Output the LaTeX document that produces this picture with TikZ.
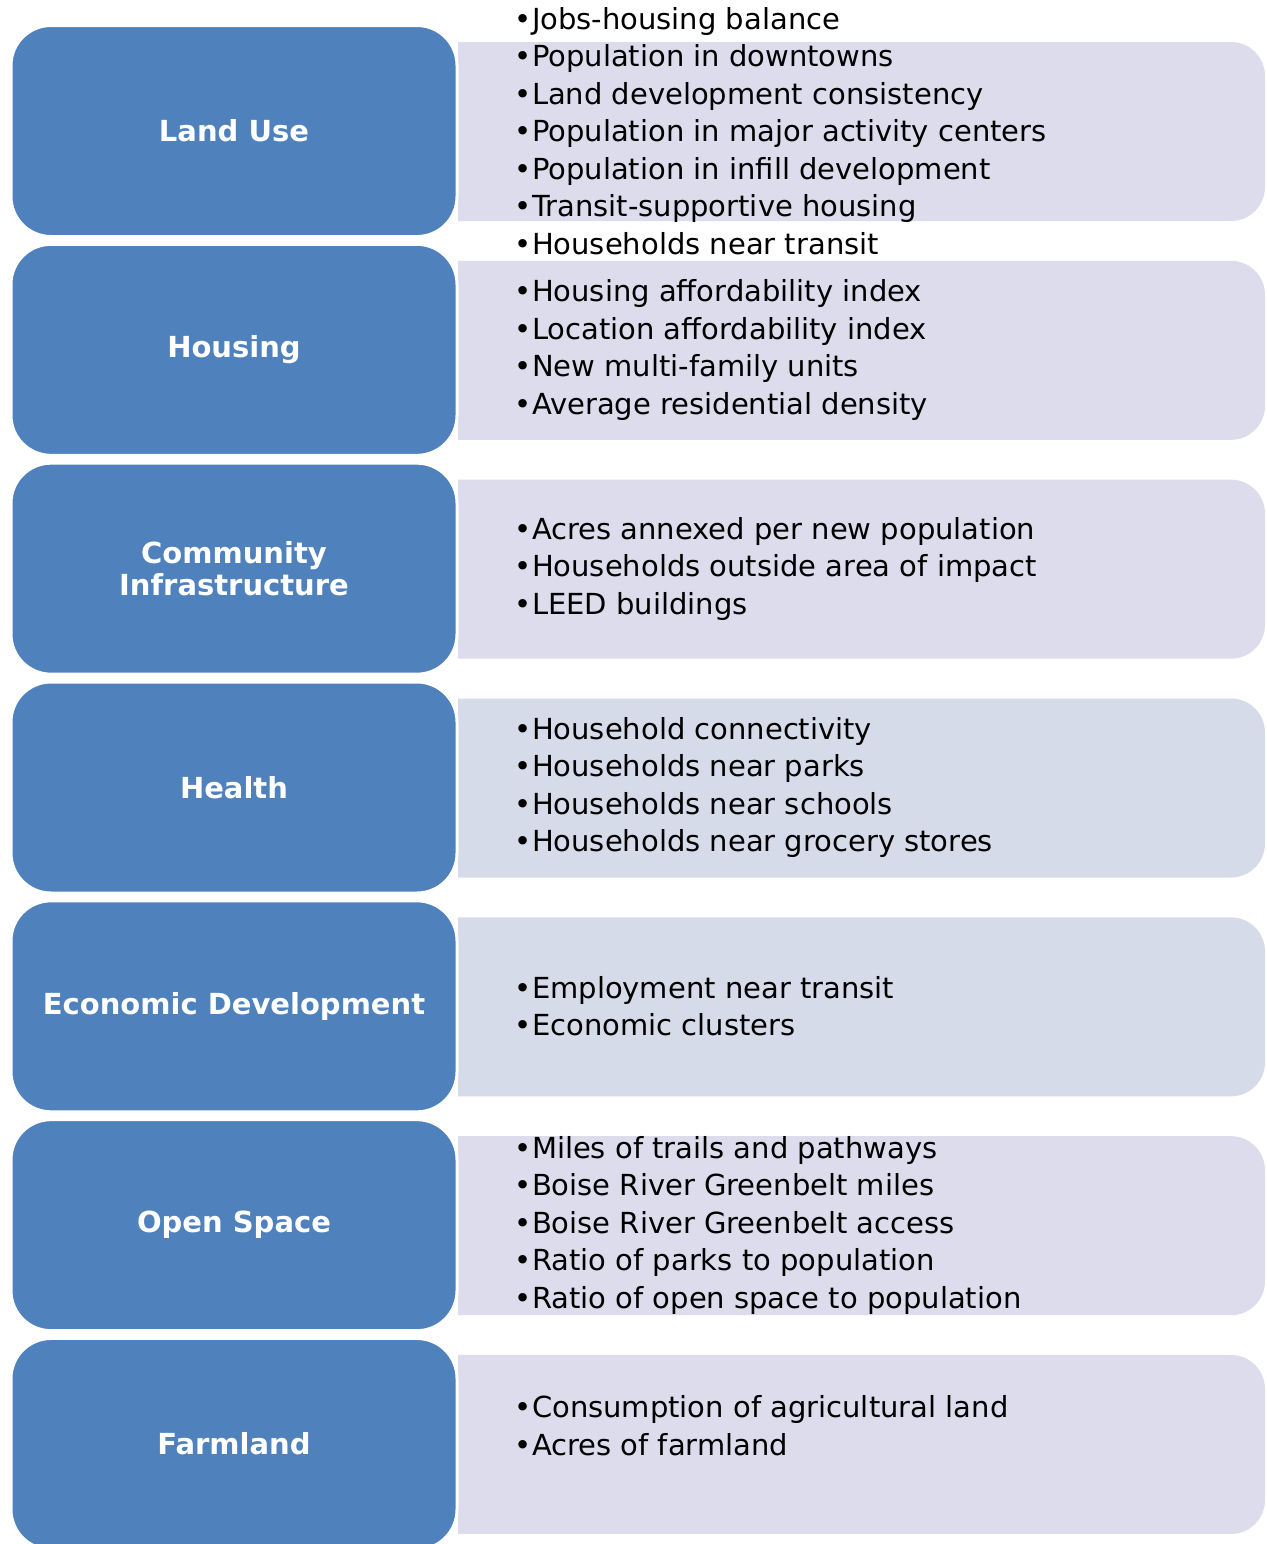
\documentclass[tikz,border=0pt]{standalone}
\usepackage{fontspec}
\setmainfont{DejaVu Sans}
\usepackage{xcolor}
\usetikzlibrary{positioning}
\definecolor{catblue}{HTML}{4F81BD}
\definecolor{panellilac}{HTML}{DCDCEC}
\definecolor{panelhaze}{HTML}{D5DBE9}
\tikzset{
  catbox/.style={fill=catblue, draw=white, line width=1.5pt, rounded corners=20pt, minimum width=223pt, minimum height=105.5pt, inner sep=0pt, align=center, text=white, font=\bfseries\fontsize{14.5}{16}\selectfont},
  itemlist/.style={anchor=west, align=left, inner sep=0pt, font=\fontsize{14.5}{18.75}\selectfont},
  panelcorner/.style={rounded corners=17pt}
}

\begin{document}
\begin{tikzpicture}[x=0.5pt, y=-0.5pt]
  \useasboundingbox (0,0) rectangle (1266,1544);
  \foreach \lab/\items/\shade [count=\i] in {
    {Land Use}/{•Jobs-housing balance\\•Population in downtowns\\•Land development consistency\\•Population in major activity centers\\•Population in infill development\\•Transit-supportive housing\\•Households near transit}/panellilac,
    {Housing}/{•Housing affordability index\\•Location affordability index\\•New multi-family units\\•Average residential density}/panellilac,
    {Community\\Infrastructure}/{•Acres annexed per new population\\•Households outside area of impact\\•LEED buildings}/panellilac,
    {Health}/{•Household connectivity\\•Households near parks\\•Households near schools\\•Households near grocery stores}/panelhaze,
    {Economic Development}/{•Employment near transit\\•Economic clusters}/panelhaze,
    {Open Space}/{•Miles of trails and pathways\\•Boise River Greenbelt miles\\•Boise River Greenbelt access\\•Ratio of parks to population\\•Ratio of open space to population}/panellilac,
    {Farmland}/{•Consumption of agricultural land\\•Acres of farmland\\\mbox{}}/panellilac%
  }{
    \pgfmathsetmacro{\yc}{131+218.83*(\i-1)}
    \pgfmathsetmacro{\yt}{\yc-89}
    \pgfmathsetmacro{\yb}{\yc+90}
    % panel behind the label, straight on the left
    \begin{scope}
      \clip (458,\yt-5) rectangle (1266,\yb+5);
      \fill[\shade, panelcorner] (400,\yt) rectangle (1265,\yb);
    \end{scope}
    \node[catbox] (cat\i) at (234,\yc) {\lab};
    \node[itemlist, right=28pt of cat\i] (list\i) {\items};
  }
\end{tikzpicture}
\end{document}
